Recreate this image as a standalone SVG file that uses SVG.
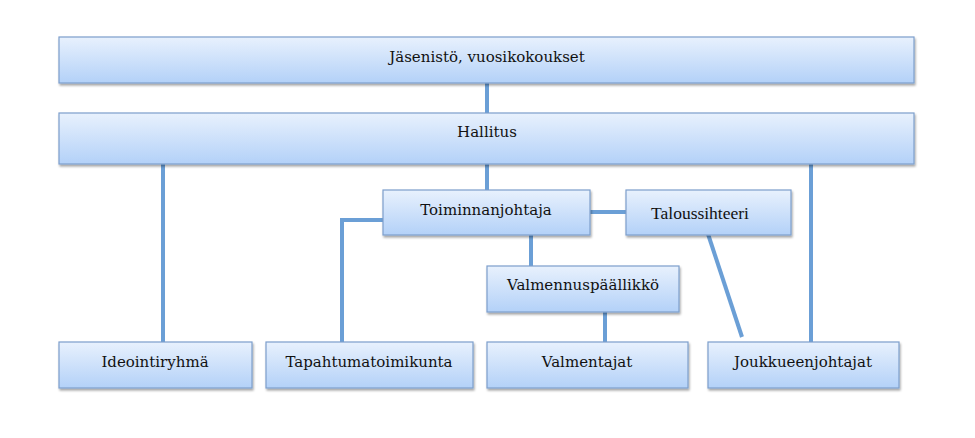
<svg xmlns="http://www.w3.org/2000/svg" width="975" height="438" viewBox="0 0 975 438">
<defs>
<linearGradient id="g" x1="0" y1="0" x2="0" y2="1">
<stop offset="0" stop-color="#e8f1fd"/>
<stop offset="1" stop-color="#b3d1f8"/>
</linearGradient>
<filter id="sh" x="-5%" y="-20%" width="110%" height="150%">
<feDropShadow dx="1" dy="2" stdDeviation="1.2" flood-color="#000" flood-opacity="0.35"/>
</filter>
</defs>
<style>
.b{fill:url(#g);stroke:#7d9fcc;stroke-width:1.2;filter:url(#sh)}
.t{font-family:"DejaVu Serif","Liberation Serif",serif;font-size:15px;fill:#111;text-anchor:middle}
.tt{font-family:"Liberation Serif",serif;font-size:17.5px;fill:#111;text-anchor:middle}
.c{stroke:#6b9fd6;stroke-width:4;fill:none}
</style>
<rect width="975" height="438" fill="#fff"/>
<g id="connectors">
<line class="c" x1="487" y1="82" x2="487" y2="114"/>
<line class="c" x1="487" y1="160" x2="487" y2="191"/>
<line class="c" x1="163" y1="158" x2="163" y2="343"/>
<line class="c" x1="811" y1="160" x2="811" y2="343"/>
<polyline class="c" points="384,220 342,220 342,343"/>
<line class="c" x1="589" y1="212" x2="627" y2="212"/>
<line class="c" x1="531" y1="234" x2="531" y2="267"/>
<line class="c" x1="605" y1="311" x2="605" y2="343"/>
<line class="c" x1="708" y1="234" x2="742" y2="337"/>
</g>
<g id="n1"><rect class="b" x="59" y="37" width="855" height="46"/><text class="t" x="487" y="62">Jäsenistö, vuosikokoukset</text></g>
<g id="n2"><rect class="b" x="59" y="113" width="855" height="51"/><text class="t" x="487" y="137">Hallitus</text></g>
<g id="n3"><rect class="b" x="383" y="190" width="207" height="45"/><text class="t" x="486" y="215">Toiminnanjohtaja</text></g>
<g id="n4"><rect class="b" x="626" y="190" width="165" height="45"/><text class="tt" x="700" y="219">Taloussihteeri</text></g>
<g id="n5"><rect class="b" x="487" y="266" width="192" height="46"/><text class="t" x="583" y="290">Valmennuspäällikkö</text></g>
<g id="n6"><rect class="b" x="59" y="342" width="193" height="46"/><text class="t" x="155" y="367">Ideointiryhmä</text></g>
<g id="n7"><rect class="b" x="266" y="342" width="207" height="46"/><text class="t" x="369" y="367">Tapahtumatoimikunta</text></g>
<g id="n8"><rect class="b" x="487" y="342" width="201" height="46"/><text class="t" x="587" y="367">Valmentajat</text></g>
<g id="n9"><rect class="b" x="708" y="342" width="191" height="46"/><text class="t" x="803" y="367">Joukkueenjohtajat</text></g>
</svg>
